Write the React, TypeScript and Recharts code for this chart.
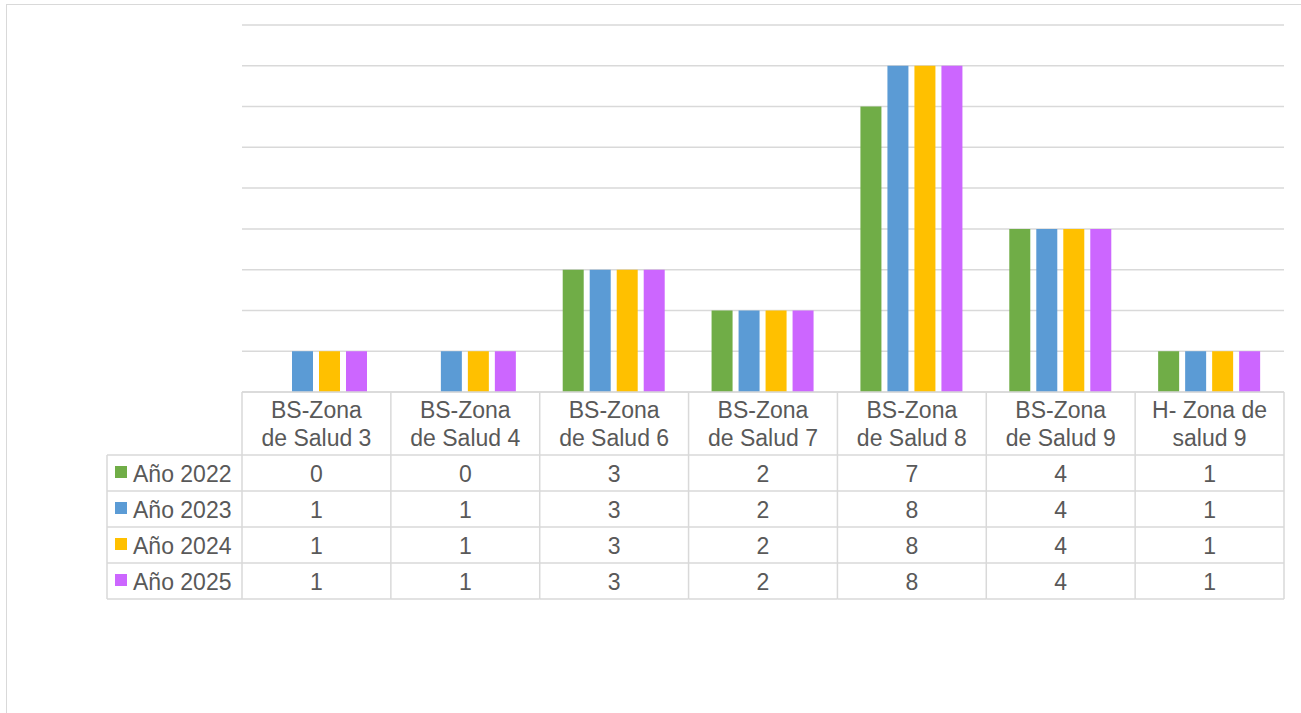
import React from 'react';
import { BarChart, Bar, XAxis, YAxis, CartesianGrid } from 'recharts';

const zonas = [
  'BS-Zona de Salud 3',
  'BS-Zona de Salud 4',
  'BS-Zona de Salud 6',
  'BS-Zona de Salud 7',
  'BS-Zona de Salud 8',
  'BS-Zona de Salud 9',
  'H- Zona de salud 9',
];
const headerLines = [
  ['BS-Zona', 'de Salud 3'],
  ['BS-Zona', 'de Salud 4'],
  ['BS-Zona', 'de Salud 6'],
  ['BS-Zona', 'de Salud 7'],
  ['BS-Zona', 'de Salud 8'],
  ['BS-Zona', 'de Salud 9'],
  ['H- Zona de', 'salud 9'],
];
const anio2022 = [0, 0, 3, 2, 7, 4, 1];
const anio2023 = [1, 1, 3, 2, 8, 4, 1];
const anio2024 = [1, 1, 3, 2, 8, 4, 1];
const anio2025 = [1, 1, 3, 2, 8, 4, 1];
const yTicks = [0, 1, 2, 3, 4, 5, 6, 7, 8, 9];

const series = [
  { key: 'a2022', name: 'Año 2022', values: anio2022, color: '#70AD47' },
  { key: 'a2023', name: 'Año 2023', values: anio2023, color: '#5B9BD5' },
  { key: 'a2024', name: 'Año 2024', values: anio2024, color: '#FFC000' },
  { key: 'a2025', name: 'Año 2025', values: anio2025, color: '#CC66FF' },
];

const data = zonas.map((z, i) => {
  const row: Record<string, any> = { zona: z };
  series.forEach((s) => (row[s.key] = s.values[i]));
  return row;
});

const W = 1301;
const H = 713;
const PLOT_LEFT = 242;
const PLOT_RIGHT = 1284;
const PLOT_TOP = 25;
const PLOT_BOTTOM = 392;
const COL_W = (PLOT_RIGHT - PLOT_LEFT) / zonas.length;
const HEADER_H = 63;
const ROW_H = 36;
const LEGEND_W = 135;
const TABLE_H = HEADER_H + ROW_H * series.length;
const LINE = '#d9d9d9';
const TEXT = '#595959';

function TableTick(props: any) {
  const { x, y, payload } = props;
  const i = zonas.indexOf(payload.value);
  const left = x - COL_W / 2;
  const right = x + COL_W / 2;
  const lines = headerLines[i];
  return (
    <g>
      <text x={x} y={y + 26} textAnchor="middle" fill={TEXT} fontSize={23}>{lines[0]}</text>
      <text x={x} y={y + 54} textAnchor="middle" fill={TEXT} fontSize={23}>{lines[1]}</text>
      {series.map((s, r) => (
        <text key={s.key} x={x} y={y + HEADER_H + r * ROW_H + 26.5} textAnchor="middle" fill={TEXT} fontSize={23}>
          {s.values[i]}
        </text>
      ))}
      {series.map((s, r) => (
        <line key={'h' + s.key} x1={left} x2={right} y1={y + HEADER_H + r * ROW_H} y2={y + HEADER_H + r * ROW_H} stroke={LINE} strokeWidth={1.5} />
      ))}
      <line x1={left} x2={right} y1={y + TABLE_H} y2={y + TABLE_H} stroke={LINE} strokeWidth={1.5} />
      <line x1={left} x2={left} y1={y} y2={y + TABLE_H} stroke={LINE} strokeWidth={1.5} />
      {i === zonas.length - 1 && (
        <line x1={right} x2={right} y1={y} y2={y + TABLE_H} stroke={LINE} strokeWidth={1.5} />
      )}
      {i === 0 && (
        <g>
          {series.map((s, r) => (
            <g key={'l' + s.key}>
              <line x1={left - LEGEND_W} x2={left} y1={y + HEADER_H + r * ROW_H} y2={y + HEADER_H + r * ROW_H} stroke={LINE} strokeWidth={1.5} />
              <rect x={left - LEGEND_W + 8} y={y + HEADER_H + r * ROW_H + 11} width={12} height={12} fill={s.color} />
              <text x={left - LEGEND_W + 26} y={y + HEADER_H + r * ROW_H + 26.5} fill={TEXT} fontSize={23}>{s.name}</text>
            </g>
          ))}
          <line x1={left - LEGEND_W} x2={left} y1={y + TABLE_H} y2={y + TABLE_H} stroke={LINE} strokeWidth={1.5} />
          <line x1={left - LEGEND_W} x2={left - LEGEND_W} y1={y + HEADER_H} y2={y + TABLE_H} stroke={LINE} strokeWidth={1.5} />
        </g>
      )}
    </g>
  );
}

export default function App() {
  return (
    <div style={{ position: 'absolute', left: 0, top: 0, width: W, height: H, background: '#fff', overflow: 'hidden', fontFamily: '"Liberation Sans", Arial, sans-serif' }}>
      <div style={{ position: 'absolute', left: 6, top: 4, width: W + 20, height: H + 20, border: '1.5px solid #d9d9d9' }} />
      <div style={{ position: 'absolute', left: 0, top: 0 }}>
        <BarChart
          width={W}
          height={H}
          data={data}
          margin={{ left: PLOT_LEFT, right: W - PLOT_RIGHT, top: PLOT_TOP, bottom: H - PLOT_BOTTOM - TABLE_H }}
          barSize={21}
          barGap={6}
          style={{ fontFamily: '"Liberation Sans", Arial, sans-serif' }}
        >
          <CartesianGrid vertical={false} stroke={LINE} strokeWidth={1.5} />
          <YAxis hide domain={[0, 9]} ticks={yTicks} width={0} />
          <XAxis
            dataKey="zona"
            height={TABLE_H}
            axisLine={{ stroke: LINE, strokeWidth: 1.5 }}
            tickLine={false}
            tickSize={0}
            tickMargin={0}
            interval={0}
            tick={<TableTick />}
          />
          {series.map((s) => (
            <Bar key={s.key} dataKey={s.key} name={s.name} fill={s.color} isAnimationActive={false} />
          ))}
        </BarChart>
      </div>
    </div>
  );
}
